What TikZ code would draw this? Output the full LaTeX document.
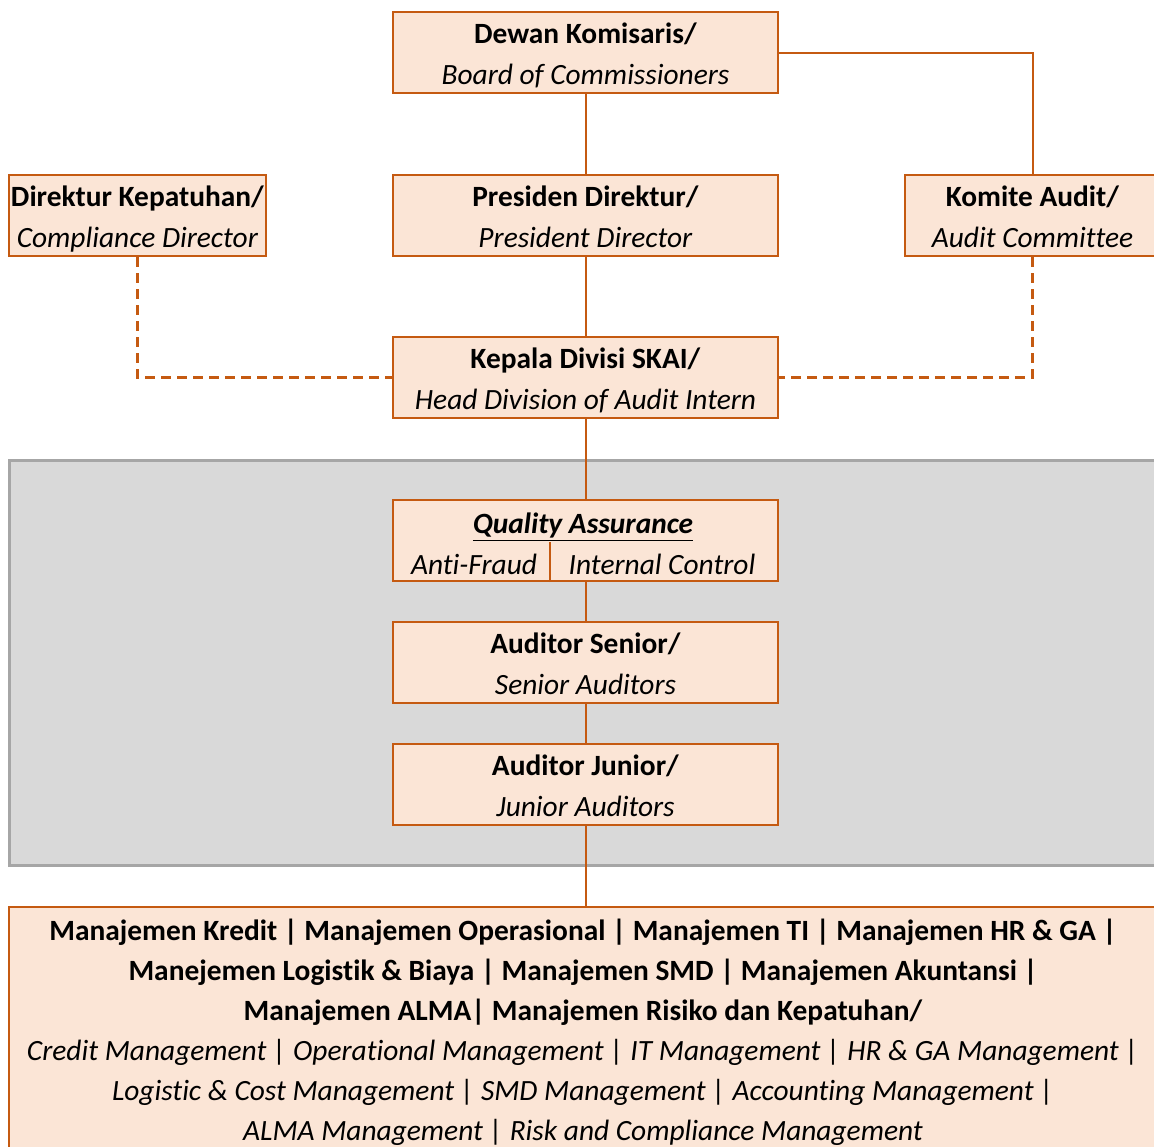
\documentclass[tikz,border=0pt]{standalone}
\usepackage{fontspec}
\setmainfont{Carlito}[Ligatures=CommonOff]
\usepackage{tikz}
\usetikzlibrary{calc,positioning}
\definecolor{orgline}{HTML}{C55A11}
\definecolor{orgfill}{HTML}{FBE5D6}
\definecolor{panelfill}{HTML}{D9D9D9}
\definecolor{panelline}{HTML}{A6A6A6}
% bold name over italic english name, with struts for the line positions
\newcommand{\boxtext}[2]{\rule{0pt}{15.75pt}\textbf{#1}\\\textit{#2}\rule[-4.25pt]{0pt}{4.25pt}}

\begin{document}
\begin{tikzpicture}[x=0.5pt,y=-0.5pt,
  ob/.style={draw=orgline,line width=1pt,fill=orgfill,align=center,inner sep=0pt,
             font=\fontsize{14.7}{20.5}\selectfont,minimum width=#1,minimum height=40.5pt},
  ob/.default=192.5pt,
  tx/.style={inner sep=0pt,font=\fontsize{14.7}{20.5}\selectfont},
  lk/.style={draw=orgline,line width=1pt},
  dl/.style={lk,line width=1.4pt,dash pattern=on 5pt off 3pt}]
  \useasboundingbox (0,0) rectangle (1154,1146);
  % grey panel round the audit team
  \draw[panelline,fill=panelfill,line width=1.5pt] (9,460) rectangle (1162,865);
  \node[ob] (dewan) at (585.5,52.5) {\boxtext{Dewan Komisaris/}{Board of Commissioners}};
  \node[ob=128.5pt] (direktur) at (137.5,215.5) {\boxtext{Direktur Kepatuhan/}{Compliance Director}};
  \node[ob] (presiden) at (585.5,215.5) {\boxtext{Presiden Direktur/}{President Director}};
  \node[ob=127.5pt] (komite) at (1032.5,215.5) {\boxtext{Komite Audit/}{Audit Committee}};
  \node[ob] (kepala) at (585.5,377.5) {\boxtext{Kepala Divisi SKAI/}{Head Division of Audit Intern}};
  \node[ob] (qa) at (585.5,540.5) {};
  \node[tx] (qat) at (583,527) {\underline{\textbf{\textit{Quality Assurance}}}};
  \node[tx] (af) at (474,564) {\textit{Anti-Fraud}};
  \node[tx] (ic) at (662,564) {\textit{Internal Control}};
  \node[ob] (senior) at (585.5,662.5) {\boxtext{Auditor Senior/}{Senior Auditors}};
  \node[ob] (junior) at (585.5,784.5) {\boxtext{Auditor Junior/}{Junior Auditors}};
  \node[ob=574pt,anchor=north,font=\fontsize{14.7}{20}\selectfont] (mgmt) at (583,906)
    {\rule{0pt}{16.75pt}\textbf{Manajemen Kredit | Manajemen Operasional | Manajemen TI | Manajemen HR \& GA |}\\
     \textbf{Manejemen Logistik \& Biaya | Manajemen SMD | Manajemen Akuntansi |}\\
     \textbf{Manajemen ALMA| Manajemen Risiko dan Kepatuhan/}\\
     \textit{Credit Management | Operational Management | IT Management | HR \& GA Management |}\\
     \textit{Logistic \& Cost Management | SMD Management | Accounting Management |}\\
     \textit{ALMA Management | Risk and Compliance Management}\rule[-6pt]{0pt}{6pt}};
  % lines of command and reporting
  \draw[lk] (dewan) -- (presiden);
  \draw[lk] (dewan.east) -| (komite.north);
  \draw[lk] (presiden) -- (kepala);
  \draw[dl] (direktur.south) |- (kepala.west);
  \draw[dl] (komite.south) |- (kepala.east);
  \draw[lk] (kepala) -- (qa);
  \draw[lk] ($(qa.south west)+(158,0)$) -- ++(0,-40);
  \draw[lk] (qa) -- (senior);
  \draw[lk] (senior) -- (junior);
  \draw[lk] (junior.south) -- (junior.south |- mgmt.north);
\end{tikzpicture}
\end{document}
